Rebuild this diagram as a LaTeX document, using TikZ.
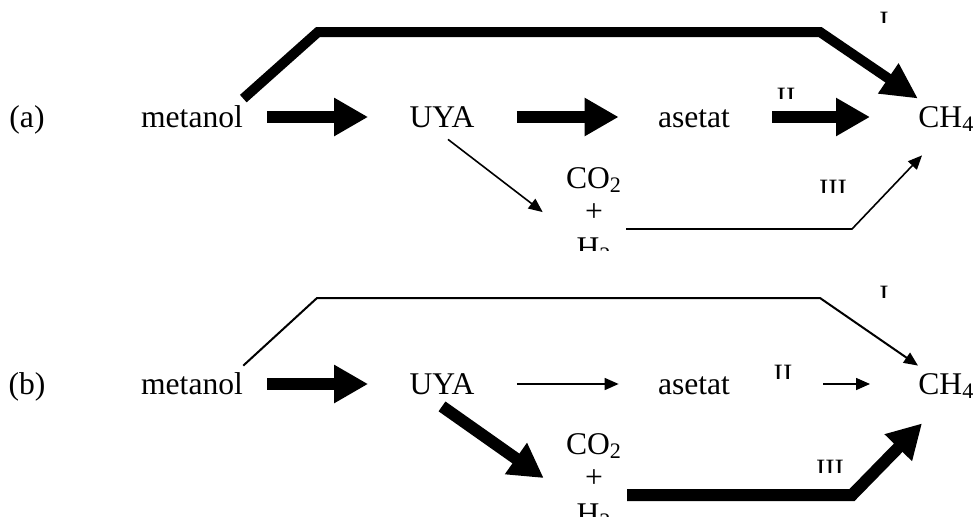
\documentclass[tikz,border=0pt]{standalone}
\usepackage{fontspec}
\setmainfont{Liberation Serif}
\usepackage{tikz}
\usetikzlibrary{arrows.meta}
\tikzset{txt/.style={font=\fontsize{15.8}{19}\selectfont,inner sep=0pt,text height=12pt,text depth=2pt},
    mol/.style={font=\fontsize{15.8}{19}\selectfont,inner sep=0pt,anchor=base},
    lab/.style={font=\fontsize{14}{16}\selectfont,inner sep=0pt,anchor=base},
    fatarrow/.style={line width=6pt,-{Triangle[length=17pt,width=18pt]}},
    fatpath/.style={line width=5pt,-{Triangle[length=18pt,width=17pt]}},
    thinarrow/.style={line width=0.8pt,-{Triangle[length=7pt,width=6pt]}}}

\begin{document}
\begin{tikzpicture}[x=0.5pt,y=0.5pt]
    \useasboundingbox (0,0) rectangle (978,521);

    % (a)
    \node[txt] (la) at (27,404) {(a)};
    \node[txt] (ma) at (192,404) {metanol};
    \node[txt] (ua) at (442,404) {UYA};
    \node[txt] (aa) at (694,404) {asetat};
    \node[txt,anchor=west] (ca) at (918,404) {CH\textsubscript{4}};
    \node[mol] (ga) at (594,333) {CO\textsubscript{2}};
    \node[mol] (pa) at (594,300) {+};
    \begin{scope}
        \clip (560,271) rectangle (630,300);
        \node[mol] (ha) at (594,263) {H\textsubscript{2}};
    \end{scope}
    \begin{scope}
        \clip (860,499) rectangle (908,521);
        \node[lab] (Ia) at (884,490.5) {I};
    \end{scope}
    \begin{scope}
        \clip (760,423) rectangle (812,450);
        \node[lab] (IIa) at (786,414.5) {II};
    \end{scope}
    \begin{scope}
        \clip (798,329) rectangle (868,360);
        \node[lab] (IIIa) at (833,322.5) {III};
    \end{scope}
    \coordinate (sa) at (626,292);

    \draw[fatpath] ([yshift=2pt]ma.north east) -- (318,489) -- (820,489) -- ([yshift=2pt]ca.north west);
    \draw[fatarrow,shorten <=12pt,shorten >=20.5pt] (ma.east) -- (ua.west);
    \draw[fatarrow,shorten <=21pt,shorten >=19.5pt] (ua.east) -- (aa.west);
    \draw[fatarrow,shorten <=21pt,shorten >=24pt] (aa.east) -- (ca.west);
    \draw[thinarrow] ([xshift=3pt,yshift=-4pt]ua.south) -- ([xshift=-21pt]pa.west);
    \draw[thinarrow] (sa) -- (852,292) -- ([xshift=2pt,yshift=-12pt]ca.south west);

    % (b)
    \node[txt] (lb) at (27,137) {(b)};
    \node[txt] (mb) at (192,137) {metanol};
    \node[txt] (ub) at (442,137) {UYA};
    \node[txt] (ab) at (694,137) {asetat};
    \node[txt,anchor=west] (cb) at (918,137) {CH\textsubscript{4}};
    \node[mol] (gb) at (594,67) {CO\textsubscript{2}};
    \node[mol] (pb) at (594,34) {+};
    \begin{scope}
        \clip (560,5) rectangle (630,30);
        \node[mol] (hb) at (594,-3) {H\textsubscript{2}};
    \end{scope}
    \begin{scope}
        \clip (860,224) rectangle (908,250);
        \node[lab] (Ib) at (884,216.5) {I};
    \end{scope}
    \begin{scope}
        \clip (757,143) rectangle (809,170);
        \node[lab] (IIb) at (783,137.5) {II};
    \end{scope}
    \begin{scope}
        \clip (795,49) rectangle (865,80);
        \node[lab] (IIIb) at (830,42.5) {III};
    \end{scope}
    \coordinate (sb) at (627,26);

    \draw[thinarrow,line width=1pt] ([yshift=2pt]mb.north east) -- (317,223) -- (820,223) -- ([yshift=2pt]cb.north west);
    \draw[fatarrow,shorten <=12pt,shorten >=20.5pt] (mb.east) -- (ub.west);
    \draw[thinarrow,shorten <=21pt,shorten >=19.5pt] (ub.east) -- (ab.west);
    \draw[thinarrow,shorten <=46.5pt,shorten >=24pt] (ab.east) -- (cb.west);
    \draw[fatarrow] ([yshift=-4pt]ub.south) -- ([xshift=-20.5pt]pb.west);
    \draw[fatarrow] (sb) -- (852,26) -- ([xshift=2pt,yshift=-12.5pt]cb.south west);
\end{tikzpicture}
\end{document}
